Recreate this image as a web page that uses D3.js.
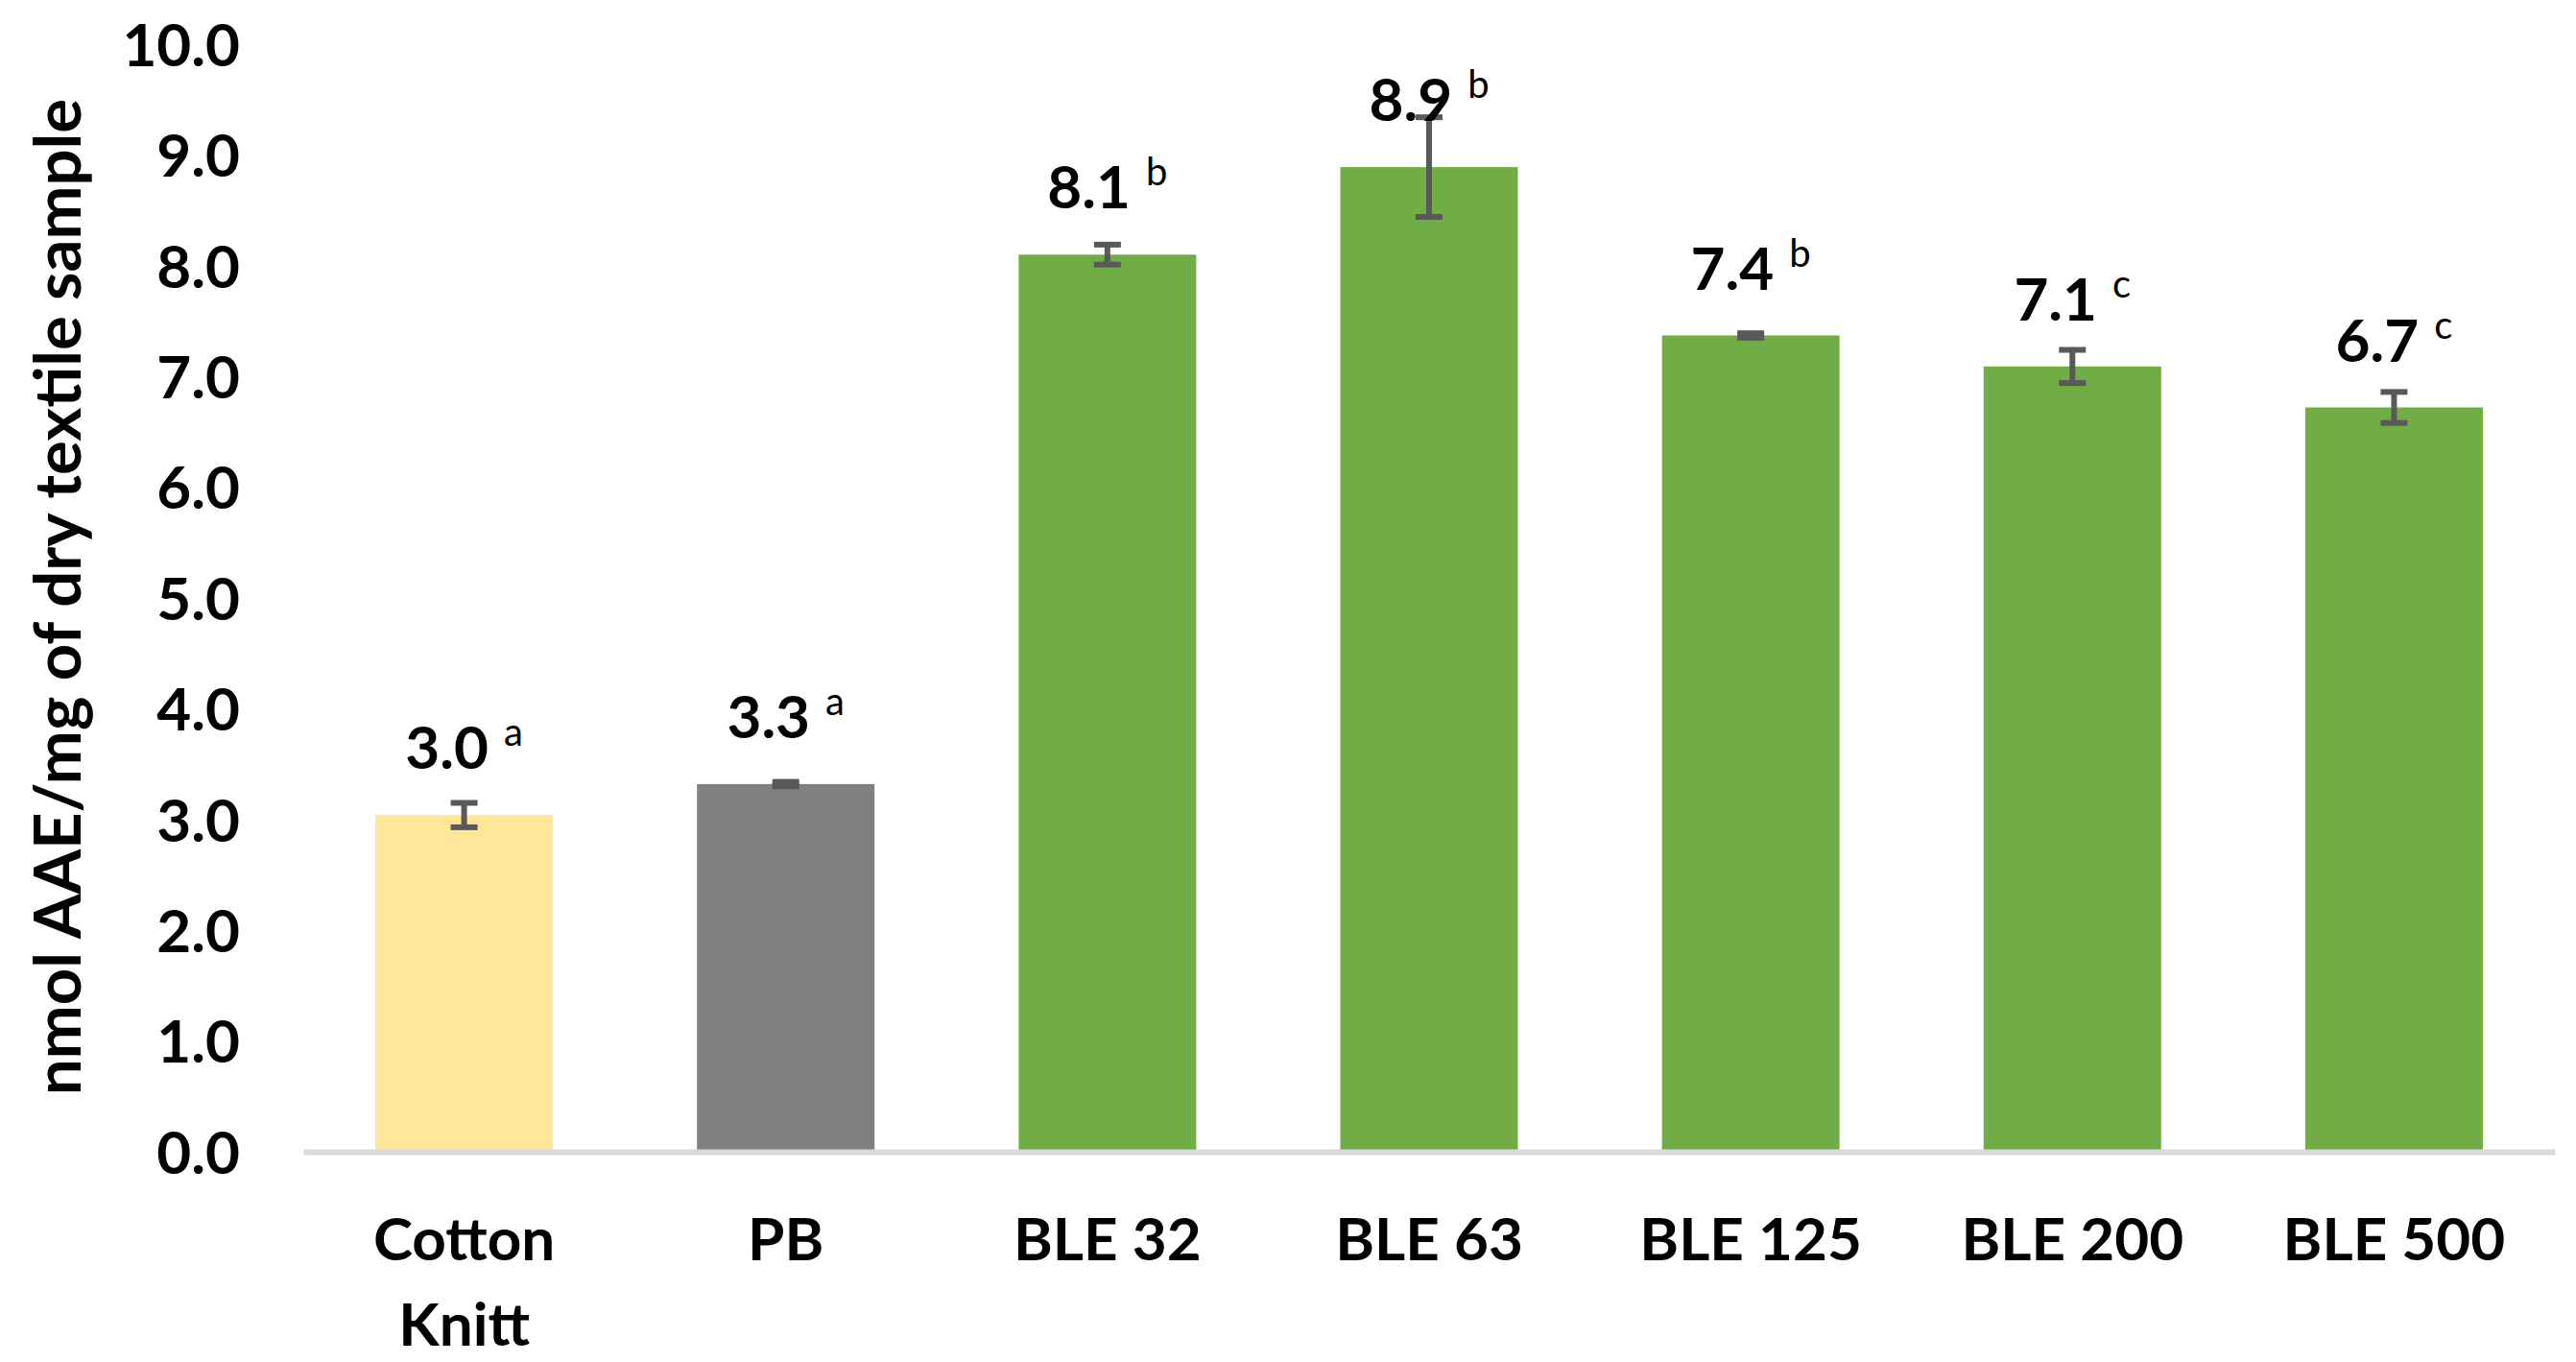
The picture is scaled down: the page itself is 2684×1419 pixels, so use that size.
<!DOCTYPE html>
<html>
<head>
<meta charset="utf-8">
<script src="https://cdn.jsdelivr.net/npm/d3@7"></script>
<style>
    body { margin: 0; background: #fff; }
    text { font-family: Lato, "Open Sans", sans-serif; }
</style>
</head>
<body>
<div id="chart"></div>
<script>
const categories = ["Cotton\nKnitt", "PB", "BLE 32", "BLE 63", "BLE 125", "BLE 200", "BLE 500"]
const values = [3.04, 3.32, 8.10, 8.89, 7.37, 7.09, 6.72]
const errors = [0.11, 0.02, 0.09, 0.45, 0.02, 0.15, 0.14]
const valueLabels = ["3.0", "3.3", "8.1", "8.9", "7.4", "7.1", "6.7"]
const letters = ["a", "a", "b", "b", "b", "c", "c"]
const barColours = ["#FFE699", "#808080", "#70AD47", "#70AD47", "#70AD47", "#70AD47", "#70AD47"]
const yTicks = [0, 1, 2, 3, 4, 5, 6, 7, 8, 9, 10]
const yTitle = "nmol AAE/mg of dry textile sample"

const W = 2684, H = 1419
const margin = {top: 46, right: 22, bottom: 219, left: 316}
const width = W - margin.left - margin.right,
    height = H - margin.top - margin.bottom

const data = categories.map((c, i) => ({
    cat: c,
    value: values[i],
    err: errors[i],
    label: valueLabels[i],
    letter: letters[i],
    colour: barColours[i]
}))

const svg = d3.select("#chart")
    .append("svg")
    .attr("width", W)
    .attr("height", H)

const g = svg.append("g")
    .attr("transform", `translate(${margin.left},${margin.top})`)

const x = d3.scaleBand()
    .domain(categories)
    .range([0, width])
    .paddingInner(0.448)
    .paddingOuter(0.224)

const y = d3.scaleLinear()
    .domain([0, 10])
    .range([height, 0])

// bars
g.selectAll("rect.bar")
    .data(data)
    .join("rect")
    .attr("class", "bar")
    .attr("x", d => x(d.cat))
    .attr("width", x.bandwidth())
    .attr("y", d => y(d.value))
    .attr("height", d => height - y(d.value))
    .attr("fill", d => d.colour)

// error bars
const errG = g.selectAll("g.err")
    .data(data)
    .join("g")
    .attr("class", "err")
    .attr("transform", d => `translate(${x(d.cat) + x.bandwidth() / 2},0)`)
    .attr("stroke", "#595959")
    .attr("stroke-width", 6)

errG.append("line")
    .attr("y1", d => y(d.value + d.err))
    .attr("y2", d => y(d.value - d.err))
errG.append("line")
    .attr("x1", -14).attr("x2", 14)
    .attr("y1", d => y(d.value + d.err))
    .attr("y2", d => y(d.value + d.err))
errG.append("line")
    .attr("x1", -14).attr("x2", 14)
    .attr("y1", d => y(d.value - d.err))
    .attr("y2", d => y(d.value - d.err))

// x axis
const xAxis = g.append("g")
    .attr("transform", `translate(0,${height})`)
    .call(d3.axisBottom(x).tickSize(0).tickSizeOuter(0))

xAxis.select(".domain")
    .attr("stroke", "#D9D9D9")
    .attr("stroke-width", 6)

xAxis.selectAll("text")
    .attr("dy", null)
    .attr("y", null)
    .attr("fill", "#000")
    .style("font-size", "62px")
    .style("font-weight", "bold")
    .each(function(d) {
        const t = d3.select(this)
        t.text(null)
        d.split("\n").forEach((line, i) => {
            t.append("tspan")
                .attr("x", 0)
                .attr("y", 113 + i * 89)
                .text(line)
        })
    })

// y axis
const yAxis = g.append("g")
    .call(d3.axisLeft(y).tickValues(yTicks).tickFormat(d3.format(".1f")).tickSize(0).tickPadding(66))

yAxis.select(".domain").remove()
yAxis.selectAll("text")
    .attr("dy", "0.36em")
    .attr("fill", "#000")
    .style("font-size", "62px")
    .style("font-weight", "bold")

// value labels with significance letters
const labels = g.selectAll("text.val")
    .data(data)
    .join("text")
    .attr("class", "val")
    .attr("x", d => x(d.cat) + x.bandwidth() / 2)
    .attr("y", d => y(d.value) - 48)
    .attr("text-anchor", "middle")
    .attr("fill", "#000")

labels.append("tspan")
    .style("font-size", "62px")
    .style("font-weight", "bold")
    .text(d => d.label)
labels.append("tspan")
    .attr("dx", 16)
    .attr("dy", -24)
    .style("font-size", "40px")
    .text(d => d.letter)

// y title
svg.append("text")
    .attr("transform", "rotate(-90)")
    .attr("x", -622)
    .attr("y", 84)
    .attr("text-anchor", "middle")
    .style("font-size", "67px")
    .style("font-weight", "bold")
    .text(yTitle)
</script>
</body>
</html>
